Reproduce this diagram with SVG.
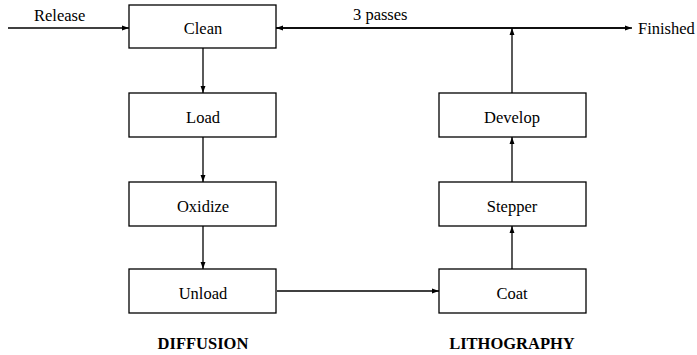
<svg xmlns="http://www.w3.org/2000/svg" width="697" height="355" viewBox="0 0 697 355">
<style>
.box{fill:#fff;stroke:#000;stroke-width:1.3}
.t{font-family:'Liberation Serif','Times New Roman','DejaVu Serif',serif;font-size:16.5px;fill:#000}
.c{text-anchor:middle}
.b{font-weight:bold}
.ln{stroke:#000;stroke-width:1.3;fill:none;marker-end:url(#ah)}
</style>
<defs>
<marker id="ah" viewBox="0 0 10 10" refX="10" refY="5" markerWidth="7" markerHeight="7" markerUnits="userSpaceOnUse" orient="auto">
<path d="M0,1.5 L10,5 L0,8.5 z" fill="#000"/>
</marker>
</defs>
<g id="connectors">
<line class="ln" x1="8" y1="28" x2="129" y2="28"/>
<line class="ln" x1="628" y1="28" x2="276" y2="28"/>
<line class="ln" x1="276" y1="28" x2="632" y2="28"/>
<line class="ln" x1="203" y1="48" x2="203" y2="93"/>
<line class="ln" x1="203" y1="137" x2="203" y2="182"/>
<line class="ln" x1="203" y1="226" x2="203" y2="269"/>
<line class="ln" x1="277" y1="291" x2="439" y2="291"/>
<line class="ln" x1="512" y1="269" x2="512" y2="226"/>
<line class="ln" x1="512" y1="182" x2="512" y2="137"/>
<line class="ln" x1="512" y1="93" x2="512" y2="28"/>
</g>
<g id="labels">
<text class="t" x="34" y="21">Release</text>
<text class="t" x="353" y="20">3 passes</text>
<text class="t" x="638" y="34">Finished</text>
<text class="t c b" x="203" y="349">DIFFUSION</text>
<text class="t c b" x="512" y="349">LITHOGRAPHY</text>
</g>
<g id="clean"><rect class="box" x="129" y="5" width="147" height="43"/><text class="t c" x="203" y="34">Clean</text></g>
<g id="load"><rect class="box" x="129" y="93" width="147" height="44"/><text class="t c" x="203" y="123">Load</text></g>
<g id="oxidize"><rect class="box" x="129" y="182" width="147" height="44"/><text class="t c" x="203" y="212">Oxidize</text></g>
<g id="unload"><rect class="box" x="129" y="269" width="147" height="44"/><text class="t c" x="203" y="299">Unload</text></g>
<g id="coat"><rect class="box" x="439" y="269" width="147" height="44"/><text class="t c" x="512" y="299">Coat</text></g>
<g id="stepper"><rect class="box" x="439" y="182" width="147" height="44"/><text class="t c" x="512" y="212">Stepper</text></g>
<g id="develop"><rect class="box" x="439" y="93" width="147" height="44"/><text class="t c" x="512" y="123">Develop</text></g>
</svg>
